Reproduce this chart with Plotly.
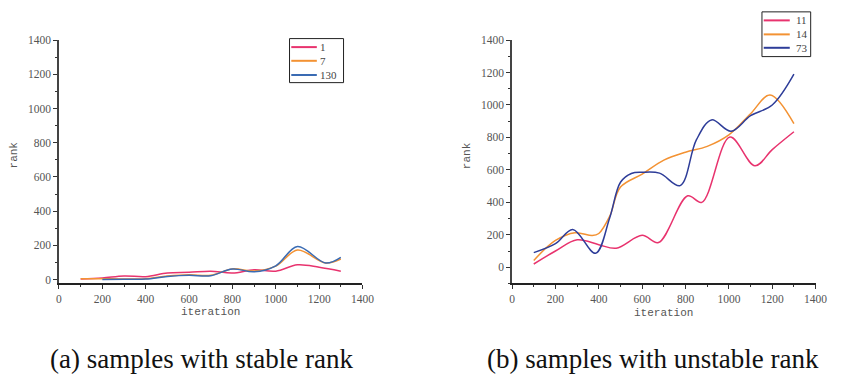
import plotly.graph_objects as go

# ---------- data: (a) samples with stable rank ----------
a_names = ["1", "7", "130"]
a_x1 = [100, 200, 300, 400, 500, 600, 700, 800, 900, 1000, 1100, 1200, 1300]
a_y1 = [3, 9, 21, 17, 38, 42, 49, 38, 57, 49, 86, 72, 49]
a_x7 = [100, 200, 300, 400, 500, 600, 700, 800, 900, 1000, 1100, 1230, 1300]
a_y7 = [5, 5, 3, 5, 20, 28, 25, 62, 50, 78, 172, 97, 120]
a_x130 = [200, 300, 400, 500, 600, 700, 800, 900, 1000, 1100, 1230, 1300]
a_y130 = [0, 2, 3, 18, 25, 22, 62, 45, 80, 193, 97, 130]

# ---------- data: (b) samples with unstable rank ----------
b_names = ["11", "14", "73"]
b_x11 = [100, 200, 300, 400, 480, 600, 675, 810, 875, 1005, 1120, 1200, 1300]
b_y11 = [20, 100, 169, 139, 117, 197, 152, 440, 400, 802, 625, 725, 835]
b_x14 = [100, 200, 290, 370, 400, 450, 500, 600, 700, 800, 900, 1000, 1100, 1190, 1300]
b_y14 = [42, 165, 213, 195, 208, 313, 494, 574, 660, 709, 745, 816, 946, 1062, 885]
b_x73 = [100, 200, 280, 385, 450, 500, 550, 600, 680, 775, 850, 920, 1010, 1100, 1200, 1300]
b_y73 = [90, 145, 233, 86, 303, 524, 578, 585, 580, 503, 785, 908, 838, 934, 1000, 1190]

x_ticks = [0, 200, 400, 600, 800, 1000, 1200, 1400]
y_ticks = [0, 200, 400, 600, 800, 1000, 1200, 1400]

PINK = "#E8336E"
ORANGE = "#F39233"
BLUE_A = "#3A6BB3"
BLUE_B = "#2E3D99"

W, H = 844, 376
fig = go.Figure()

def add(x, y, name, color, xa, ya):
    fig.add_trace(go.Scatter(
        x=x, y=y, name=name, mode="lines", showlegend=False,
        line=dict(color=color, width=1.5, shape="spline", smoothing=1.0),
        xaxis=xa, yaxis=ya))

add(a_x1, a_y1, a_names[0], PINK, "x", "y")
add(a_x7, a_y7, a_names[1], ORANGE, "x", "y")
add(a_x130, a_y130, a_names[2], BLUE_A, "x", "y")
add(b_x11, b_y11, b_names[0], PINK, "x2", "y2")
add(b_x14, b_y14, b_names[1], ORANGE, "x2", "y2")
add(b_x73, b_y73, b_names[2], BLUE_B, "x2", "y2")

tick_font = dict(family="Liberation Serif, serif", size=11.5, color="#555")

def xaxis(dom, anchor):
    return dict(domain=dom, anchor=anchor, range=[0, 1400], tickvals=x_ticks,
                ticks="outside", ticklen=4, tickwidth=1, tickcolor="#333",
                showline=True, linecolor="#222", linewidth=1.5,
                showgrid=False, zeroline=False, tickfont=tick_font,
                minor=dict(dtick=100, tick0=0, ticks="outside", ticklen=2, tickcolor="#333"))

def yaxis(rng, anchor):
    return dict(domain=[1 - 283.5 / H, 1 - 34.8 / H], anchor=anchor, range=rng,
                tickvals=y_ticks,
                ticks="outside", ticklen=4, tickwidth=1, tickcolor="#333",
                showline=True, linecolor="#444", linewidth=1.6,
                showgrid=False, zeroline=False, tickfont=tick_font,
                minor=dict(dtick=100, tick0=0, ticks="outside", ticklen=2, tickcolor="#333"))

fig.update_layout(
    width=W, height=H,
    margin=dict(l=0, r=0, t=0, b=0),
    paper_bgcolor="white", plot_bgcolor="white",
    xaxis=xaxis([57 / W, 366 / W], "y"),
    yaxis=yaxis([-23, 1400], "x"),
    xaxis2=xaxis([518.3 / W, 827.3 / W], "y2"),
    yaxis2=yaxis([-100, 1400], "x2"),
    showlegend=False,
)

# ---------- legends (box + swatches + text) ----------
def px(xp):
    return xp / W

def py(yp):
    return 1 - yp / H

legend_font = dict(family="Liberation Serif, serif", size=11, color="#444")

def legend_box(x0, y0, x1, y1, sw_x0, sw_x1, text_x, rows, names, colors):
    fig.add_shape(type="rect", xref="paper", yref="paper",
                  x0=px(x0), x1=px(x1), y0=py(y1), y1=py(y0),
                  line=dict(color="#222", width=1), fillcolor="white", layer="above")
    for r, n, c in zip(rows, names, colors):
        fig.add_shape(type="line", xref="paper", yref="paper",
                      x0=px(sw_x0), x1=px(sw_x1), y0=py(r), y1=py(r),
                      line=dict(color=c, width=2), layer="above")
        fig.add_annotation(text=n, xref="paper", yref="paper", x=px(text_x), y=py(r),
                           xanchor="left", yanchor="middle", showarrow=False, font=legend_font)

legend_box(291.7, 33.3, 346.7, 78.3, 293.5, 319.5, 321.0, [42.0, 56.0, 70.5],
           a_names, [PINK, ORANGE, BLUE_A])
legend_box(772.7, 6.0, 822.3, 51.7, 774.5, 801.0, 805.0, [14.7, 29.0, 42.7],
           b_names, [PINK, ORANGE, BLUE_B])

title_font = dict(family="Liberation Mono, monospace", size=11, color="#555")
cap_font = dict(family="Liberation Serif, serif", size=27, color="#111")
annots = [
    dict(text="iteration", x=211.5 / W, y=1 - 313 / H, font=title_font),
    dict(text="iteration", x=672.8 / W, y=1 - 313.3 / H, font=title_font),
    dict(text="rank", x=11.2 / W, y=1 - 152.7 / H, font=title_font, textangle=-90),
    dict(text="rank", x=472.3 / W, y=1 - 152.5 / H, font=title_font, textangle=-90),
    dict(text="(a) samples with stable rank", x=202 / W, y=1 - 361 / H, font=cap_font),
    dict(text="(b) samples with unstable rank", x=661.5 / W, y=1 - 361 / H, font=cap_font),
]
for a in annots:
    a.update(xref="paper", yref="paper", showarrow=False, xanchor="center", yanchor="middle")
    fig.add_annotation(**a)

fig.write_html("out.html")
